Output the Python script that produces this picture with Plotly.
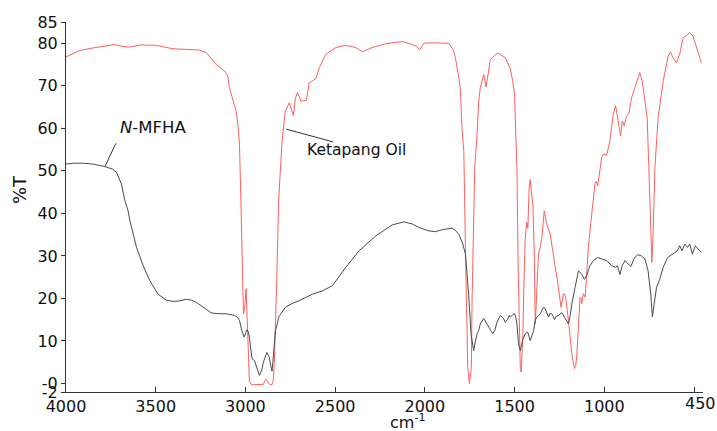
import plotly.graph_objects as go

# Ketapang Oil (red) spectrum: wavenumber (cm-1) and %T
oil_wn = [4000, 3922, 3850, 3780, 3728, 3690, 3644, 3589, 3496, 3404, 3330, 3256, 3218, 3190, 3163,
          3117, 3100, 3089, 3070, 3052, 3040, 3033, 3024, 3018, 3011, 3004, 2996, 2990, 2984, 2978,
          2965, 2930, 2900, 2890, 2885, 2878, 2865, 2852, 2845, 2839, 2833, 2825, 2815, 2796, 2778,
          2756, 2744, 2733, 2722, 2710, 2700, 2691, 2660, 2645, 2607, 2589, 2552, 2496, 2441, 2385,
          2348, 2293, 2219, 2126, 2070, 2045, 2028, 2006, 1959, 1922, 1867, 1839, 1830, 1811, 1802,
          1793, 1783, 1772, 1761, 1752, 1741, 1737, 1728, 1722, 1709, 1700, 1691, 1676, 1672, 1659,
          1650, 1644, 1635, 1598, 1589, 1552, 1524, 1510, 1500, 1493, 1487, 1480, 1475, 1468, 1463,
          1458, 1454, 1447, 1441, 1432, 1426, 1419, 1413, 1404, 1398, 1390, 1385, 1380, 1376, 1367,
          1357, 1348, 1340, 1335, 1328, 1321, 1302, 1290, 1274, 1256, 1241, 1233, 1228, 1220, 1215,
          1200, 1181, 1167, 1160, 1154, 1144, 1135, 1130, 1126, 1117, 1107, 1098, 1089, 1070, 1052,
          1045, 1037, 1025, 1015, 1002, 987, 969, 950, 937, 922, 909, 900, 889, 876, 863,
          848, 830, 811, 802, 789, 774, 761, 752, 743, 735, 728, 718, 700, 672, 644,
          632, 617, 598, 580, 561, 543, 524, 506, 487, 459]
oil_t = [76.8, 78.3, 78.9, 79.3, 79.7, 79.3, 79.1, 79.6, 79.5, 78.7, 78.5, 78.4, 77.8, 76.5, 75.0,
         73.5, 72.5, 69.6, 67.0, 64.0, 60.0, 56.0, 40.6, 25.0, 16.4, 18.0, 22.3, 15.0, 5.0, 0.5,
         -0.3, -0.3, -0.2, 0.7, 1.0, 0.5, -0.3, -0.3, 0.7, 5.0, 11.7, 25.0, 43.0, 57.0, 64.0,
         66.0, 64.5, 63.0, 67.0, 68.4, 67.5, 66.4, 66.6, 70.7, 71.7, 74.2, 77.4, 79.0, 79.5, 79.0,
         78.0, 79.0, 79.9, 80.4, 79.7, 79.2, 78.5, 80.0, 80.1, 80.1, 80.0, 78.2, 76.6, 72.0, 69.0,
         60.0, 54.7, 27.3, 3.8, 0.0, 3.8, 19.5, 35.0, 50.8, 58.7, 66.4, 69.6, 72.5, 72.7, 69.7,
         72.0, 74.3, 76.2, 77.6, 77.6, 76.6, 74.0, 71.0, 68.0, 58.0, 50.8, 27.0, 14.0, 3.5, 2.7,
         8.0, 11.7, 25.0, 34.0, 37.9, 36.5, 46.0, 48.0, 44.0, 42.0, 30.0, 14.0, 18.0, 21.8, 30.5,
         32.0, 34.3, 38.0, 40.6, 39.0, 37.5, 35.2, 32.0, 28.2, 22.6, 17.9, 19.5, 21.1, 21.0, 20.3,
         14.8, 7.0, 3.5, 4.0, 6.2, 12.4, 20.3, 20.0, 18.8, 21.1, 20.3, 25.8, 32.0, 39.9, 47.0,
         47.5, 46.5, 50.0, 53.1, 54.0, 53.6, 57.0, 63.4, 65.3, 61.7, 58.2, 61.7, 60.6, 62.9, 63.4,
         67.2, 69.6, 72.3, 73.1, 71.1, 66.4, 62.5, 50.8, 39.0, 28.5, 35.2, 50.8, 62.5, 71.1, 77.0,
         78.0, 76.6, 75.4, 77.4, 81.3, 81.8, 82.5, 81.7, 79.3, 75.4]

# N-MFHA (dark grey) spectrum
mfha_wn = [4000, 3950, 3904, 3850, 3783, 3740, 3718, 3691, 3672, 3654, 3644, 3607, 3570, 3533, 3487,
           3441, 3404, 3370, 3330, 3300, 3274, 3237, 3191, 3150, 3107, 3061, 3045, 3033, 3020, 3007,
           3000, 2993, 2985, 2978, 2970, 2963, 2950, 2935, 2922, 2910, 2900, 2881, 2867, 2858, 2852,
           2845, 2839, 2833, 2820, 2815, 2778, 2740, 2700, 2626, 2570, 2515, 2441, 2367, 2274, 2181,
           2117, 2070, 2033, 1980, 1941, 1900, 1848, 1830, 1811, 1790, 1774, 1765, 1756, 1743, 1728,
           1718, 1709, 1700, 1691, 1672, 1660, 1644, 1622, 1610, 1598, 1580, 1565, 1552, 1540, 1530,
           1524, 1510, 1500, 1493, 1487, 1478, 1468, 1456, 1450, 1441, 1432, 1426, 1413, 1394, 1385,
           1376, 1357, 1345, 1339, 1330, 1320, 1311, 1302, 1293, 1285, 1278, 1268, 1256, 1237, 1222,
           1210, 1200, 1190, 1181, 1163, 1144, 1126, 1111, 1098, 1080, 1061, 1037, 1015, 987, 959,
           937, 926, 913, 900, 885, 867, 852, 835, 815, 793, 774, 756, 741, 732, 722,
           709, 691, 672, 648, 617, 593, 580, 567, 552, 537, 524, 509, 493, 478, 459]
mfha_t = [51.6, 51.8, 51.8, 51.6, 51.0, 50.4, 49.6, 46.9, 43.0, 40.6, 38.3, 32.0, 27.7, 24.2, 21.0,
          19.6, 19.3, 19.4, 19.8, 19.6, 19.1, 17.9, 16.6, 16.4, 16.4, 16.0, 15.6, 14.8, 12.4, 10.9,
          11.8, 12.6, 12.3, 11.0, 8.0, 5.8, 5.4, 3.5, 1.9, 3.0, 5.0, 7.3, 6.2, 4.0, 2.9,
          6.0, 9.3, 12.4, 14.4, 15.6, 17.9, 18.8, 19.5, 21.0, 21.8, 23.0, 27.3, 31.2, 34.7, 37.3,
          38.0, 37.5, 36.7, 35.9, 35.7, 36.2, 36.5, 36.0, 35.1, 33.0, 30.4, 26.0, 21.0, 11.7, 7.7,
          10.0, 11.7, 12.5, 14.0, 15.3, 14.5, 13.2, 11.7, 12.5, 14.4, 16.0, 15.5, 14.4, 15.0, 16.0,
          15.6, 16.2, 16.4, 15.5, 14.0, 9.3, 7.7, 10.1, 10.9, 11.7, 12.0, 12.0, 10.1, 12.4, 14.8,
          15.6, 16.4, 17.5, 17.9, 17.6, 16.5, 15.6, 16.5, 16.4, 15.8, 15.0, 15.8, 16.0, 16.7, 15.6,
          15.0, 14.0, 16.0, 18.7, 22.6, 26.5, 25.7, 24.5, 25.4, 27.7, 28.9, 29.6, 29.3, 28.9, 27.7,
          27.3, 27.7, 25.6, 27.7, 28.9, 28.1, 27.5, 29.3, 30.3, 30.0, 29.3, 26.5, 21.0, 15.7, 18.7,
          22.6, 24.5, 27.3, 29.6, 30.4, 31.2, 32.4, 31.2, 32.8, 32.0, 32.8, 30.4, 32.4, 31.6, 30.8]

x_tickvals = [4000, 3500, 3000, 2500, 2000, 1500, 1000, 500, 450]
x_ticktext = ["4000", "3500", "3000", "2500", "2000", "1500", "1000", "", ""]
x_end_label = "450"
y_tickvals = [85, 80, 70, 60, 50, 40, 30, 20, 10, 0, -2]
y_ticktext = ["85", "80", "70", "60", "50", "40", "30", "20", "10", "-0", "-2"]

FONT = "DejaVu Sans"

fig = go.Figure()
fig.add_trace(go.Scatter(x=oil_wn, y=oil_t, mode="lines", name="Ketapang Oil",
                         line=dict(color="#ff5f5f", width=1)))
fig.add_trace(go.Scatter(x=mfha_wn, y=mfha_t, mode="lines", name="N-MFHA",
                         line=dict(color="#4a4a4a", width=1)))

# leader lines for labels
fig.add_shape(type="line", xref="x", yref="y", x0=3722, y0=56.5, x1=3782, y1=51.1,
              line=dict(color="#333333", width=1))
fig.add_shape(type="line", xref="x", yref="y", x0=2772, y0=59.8, x1=2511, y1=56.8,
              line=dict(color="#333333", width=1))

fig.add_annotation(x=3517, y=60.1, xref="x", yref="y", text="<i>N</i>-MFHA", showarrow=False,
                   xanchor="center", yanchor="middle",
                   font=dict(family=FONT, size=16.5, color="#111111"))
fig.add_annotation(x=2383, y=54.9, xref="x", yref="y", text="Ketapang Oil", showarrow=False,
                   xanchor="center", yanchor="middle",
                   font=dict(family=FONT, size=15.5, color="#111111"))

# end-of-axis tick label (kept inside the page edge)
fig.add_annotation(x=x_tickvals[-1], y=0, xref="x", yref="paper", yshift=-11, xshift=-3,
                   text=x_end_label, showarrow=False, xanchor="center", yanchor="middle",
                   font=dict(family=FONT, size=16, color="#111111"))

# axis titles
fig.add_annotation(x=0, y=0.546, xref="paper", yref="paper", xshift=-46, text="%T",
                   xanchor="center", yanchor="middle",
                   textangle=-90, showarrow=False, font=dict(family=FONT, size=18, color="#111111"))
fig.add_annotation(x=0.537, y=0, xref="paper", yref="paper", yshift=-29, text="cm<sup>-1</sup>",
                   xanchor="center", yanchor="middle",
                   showarrow=False, font=dict(family=FONT, size=16, color="#111111"))

fig.update_layout(
    width=717, height=431,
    margin=dict(l=66, r=14, t=22, b=39),
    paper_bgcolor="white", plot_bgcolor="white",
    showlegend=False,
    font=dict(family=FONT, size=15, color="#111111"),
)
fig.update_xaxes(range=[4000, 450], tickvals=x_tickvals, ticktext=x_ticktext, automargin=False,
                 ticklabeloverflow="allow",
                 showgrid=False, zeroline=False, showline=True, linecolor="#333333", linewidth=1,
                 ticks="inside", ticklen=5, tickcolor="#333333",
                 tickfont=dict(family=FONT, size=16, color="#111111"))
fig.update_yaxes(range=[-2, 85], tickvals=y_tickvals, ticktext=y_ticktext, automargin=False,
                 ticklabeloverflow="allow",
                 showgrid=False, zeroline=False, showline=True, linecolor="#333333", linewidth=1,
                 ticks="outside", ticklen=4, tickcolor="#333333",
                 tickfont=dict(family=FONT, size=16, color="#111111"))

# remove the default page margin so the figure sits at the window's top-left corner
fig.write_html("out.html", config={"displayModeBar": False},
               post_script="document.body.style.margin='0px';document.body.style.overflow='hidden';")
